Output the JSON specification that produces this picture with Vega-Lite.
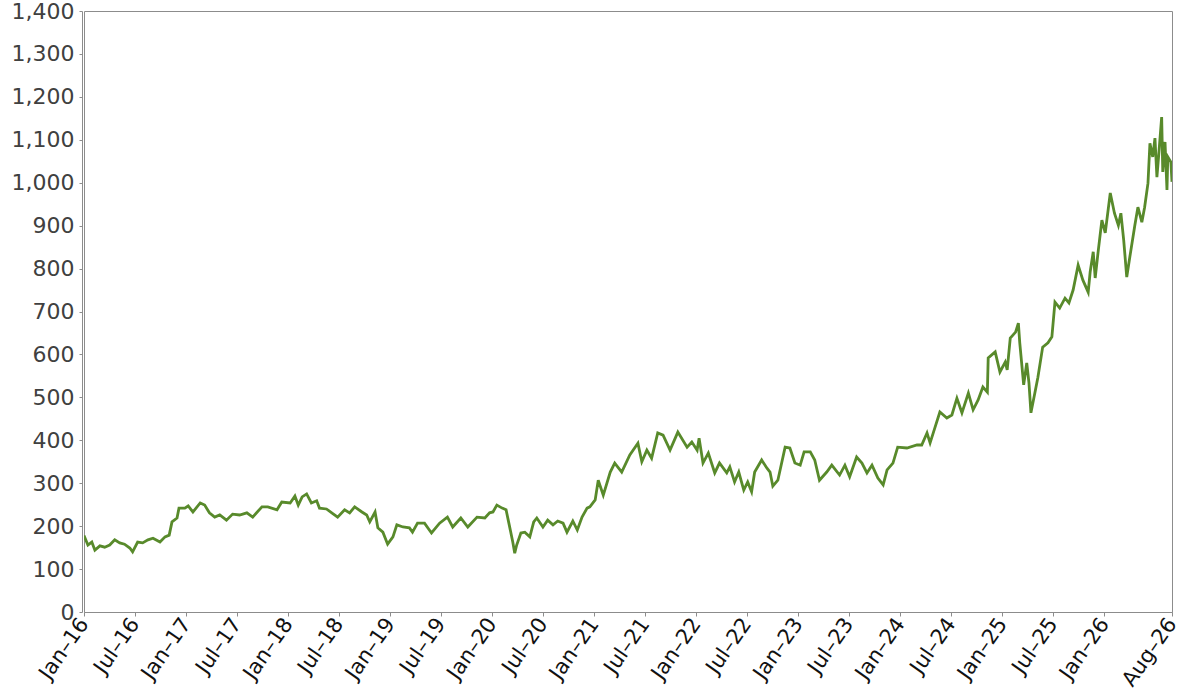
{
  "$schema": "https://vega.github.io/schema/vega-lite/v6.json",
  "width": 1088,
  "height": 601,
  "autosize": "none",
  "padding": {"left": 84, "top": 11, "right": 28, "bottom": 88},
  "background": "white",
  "config": {
    "view": {"stroke": "#8c8c8c", "strokeWidth": 1},
    "axis": {"grid": false, "labelFont": "DejaVu Sans", "titleFont": "DejaVu Sans"}
  },
  "data": {
    "values": [
      {"d":"2016-01-01","v":178},{"d":"2016-01-15","v":156},{"d":"2016-01-29","v":163},{"d":"2016-02-09","v":144},{"d":"2016-02-27","v":154},{"d":"2016-03-15","v":151},{"d":"2016-04-02","v":156},{"d":"2016-04-20","v":168},{"d":"2016-05-08","v":161},{"d":"2016-05-25","v":158},{"d":"2016-06-13","v":149},{"d":"2016-06-23","v":140},{"d":"2016-07-11","v":163},{"d":"2016-07-29","v":161},{"d":"2016-08-17","v":168},{"d":"2016-09-04","v":172},{"d":"2016-09-29","v":163},{"d":"2016-10-17","v":175},{"d":"2016-11-01","v":179},{"d":"2016-11-11","v":210},{"d":"2016-11-29","v":219},{"d":"2016-12-06","v":242},{"d":"2016-12-27","v":242},
      {"d":"2017-01-08","v":247},{"d":"2017-01-25","v":233},{"d":"2017-02-20","v":254},{"d":"2017-03-08","v":249},{"d":"2017-03-25","v":231},{"d":"2017-04-13","v":221},{"d":"2017-05-01","v":226},{"d":"2017-05-25","v":214},{"d":"2017-06-16","v":228},{"d":"2017-07-11","v":226},{"d":"2017-08-06","v":231},{"d":"2017-08-27","v":221},{"d":"2017-09-29","v":245},{"d":"2017-10-20","v":245},{"d":"2017-11-22","v":238},{"d":"2017-12-09","v":256},
      {"d":"2018-01-08","v":254},{"d":"2018-01-25","v":270},{"d":"2018-02-06","v":249},{"d":"2018-02-20","v":268},{"d":"2018-03-08","v":275},{"d":"2018-03-25","v":254},{"d":"2018-04-13","v":259},{"d":"2018-04-23","v":242},{"d":"2018-05-18","v":240},{"d":"2018-06-06","v":231},{"d":"2018-06-27","v":221},{"d":"2018-07-22","v":238},{"d":"2018-08-09","v":231},{"d":"2018-08-27","v":245},{"d":"2018-09-22","v":233},{"d":"2018-10-09","v":226},{"d":"2018-10-20","v":210},{"d":"2018-11-08","v":233},{"d":"2018-11-18","v":196},{"d":"2018-12-06","v":186},{"d":"2018-12-23","v":158},
      {"d":"2019-01-11","v":175},{"d":"2019-01-25","v":203},{"d":"2019-02-16","v":198},{"d":"2019-03-11","v":196},{"d":"2019-03-22","v":186},{"d":"2019-04-09","v":207},{"d":"2019-05-04","v":207},{"d":"2019-05-29","v":184},{"d":"2019-06-27","v":207},{"d":"2019-07-25","v":221},{"d":"2019-08-13","v":198},{"d":"2019-09-11","v":219},{"d":"2019-10-06","v":198},{"d":"2019-11-08","v":221},{"d":"2019-12-06","v":219},{"d":"2019-12-23","v":231},
      {"d":"2020-01-04","v":233},{"d":"2020-01-18","v":249},{"d":"2020-02-06","v":242},{"d":"2020-02-20","v":238},{"d":"2020-03-01","v":207},{"d":"2020-03-15","v":163},{"d":"2020-03-22","v":137},{"d":"2020-03-29","v":156},{"d":"2020-04-13","v":184},{"d":"2020-04-27","v":186},{"d":"2020-05-15","v":175},{"d":"2020-05-29","v":210},{"d":"2020-06-09","v":219},{"d":"2020-07-01","v":198},{"d":"2020-07-18","v":214},{"d":"2020-08-06","v":203},{"d":"2020-08-23","v":212},{"d":"2020-09-11","v":207},{"d":"2020-09-25","v":186},{"d":"2020-10-16","v":212},{"d":"2020-11-01","v":191},{"d":"2020-11-18","v":221},{"d":"2020-12-06","v":242},{"d":"2020-12-16","v":245},
      {"d":"2021-01-04","v":261},{"d":"2021-01-15","v":307},{"d":"2021-02-02","v":272},{"d":"2021-02-27","v":326},{"d":"2021-03-15","v":347},{"d":"2021-04-09","v":326},{"d":"2021-05-08","v":366},{"d":"2021-06-06","v":393},{"d":"2021-06-20","v":350},{"d":"2021-07-08","v":377},{"d":"2021-07-25","v":358},{"d":"2021-08-16","v":417},{"d":"2021-09-04","v":412},{"d":"2021-09-29","v":377},{"d":"2021-10-27","v":419},{"d":"2021-11-29","v":384},{"d":"2021-12-16","v":396},
      {"d":"2022-01-04","v":377},{"d":"2022-01-11","v":405},{"d":"2022-01-25","v":347},{"d":"2022-02-13","v":370},{"d":"2022-03-08","v":324},{"d":"2022-03-25","v":347},{"d":"2022-04-20","v":324},{"d":"2022-05-01","v":338},{"d":"2022-05-18","v":303},{"d":"2022-06-02","v":326},{"d":"2022-06-20","v":284},{"d":"2022-07-04","v":303},{"d":"2022-07-18","v":280},{"d":"2022-07-29","v":326},{"d":"2022-08-23","v":354},{"d":"2022-09-11","v":335},{"d":"2022-09-22","v":326},{"d":"2022-10-02","v":293},{"d":"2022-10-20","v":307},{"d":"2022-11-15","v":384},{"d":"2022-12-02","v":382},{"d":"2022-12-20","v":347},
      {"d":"2023-01-08","v":342},{"d":"2023-01-22","v":373},{"d":"2023-02-13","v":373},{"d":"2023-03-01","v":354},{"d":"2023-03-18","v":307},{"d":"2023-04-13","v":326},{"d":"2023-05-01","v":342},{"d":"2023-05-29","v":319},{"d":"2023-06-17","v":342},{"d":"2023-07-04","v":315},{"d":"2023-07-29","v":361},{"d":"2023-08-17","v":347},{"d":"2023-09-04","v":324},{"d":"2023-09-22","v":342},{"d":"2023-10-13","v":312},{"d":"2023-11-01","v":296},{"d":"2023-11-15","v":331},{"d":"2023-12-06","v":347},{"d":"2023-12-23","v":384},
      {"d":"2024-01-25","v":382},{"d":"2024-03-01","v":389},{"d":"2024-03-18","v":389},{"d":"2024-04-06","v":417},{"d":"2024-04-17","v":394},{"d":"2024-05-04","v":429},{"d":"2024-05-22","v":466},{"d":"2024-06-16","v":452},{"d":"2024-07-04","v":459},{"d":"2024-07-22","v":498},{"d":"2024-08-09","v":464},{"d":"2024-09-01","v":510},{"d":"2024-09-18","v":471},{"d":"2024-10-06","v":494},{"d":"2024-10-23","v":524},{"d":"2024-11-08","v":512},{"d":"2024-11-11","v":592},{"d":"2024-12-06","v":606},{"d":"2024-12-23","v":559},
      {"d":"2025-01-11","v":582},{"d":"2025-01-18","v":564},{"d":"2025-01-29","v":638},{"d":"2025-02-17","v":652},{"d":"2025-02-27","v":673},{"d":"2025-03-04","v":627},{"d":"2025-03-18","v":529},{"d":"2025-03-29","v":580},{"d":"2025-04-06","v":533},{"d":"2025-04-13","v":464},{"d":"2025-04-27","v":510},{"d":"2025-05-08","v":547},{"d":"2025-05-25","v":617},{"d":"2025-06-13","v":627},{"d":"2025-06-27","v":641},{"d":"2025-07-08","v":722},{"d":"2025-07-25","v":708},{"d":"2025-08-13","v":731},{"d":"2025-08-27","v":720},{"d":"2025-09-11","v":750},{"d":"2025-09-29","v":808},{"d":"2025-10-16","v":773},{"d":"2025-11-04","v":745},{"d":"2025-11-11","v":792},{"d":"2025-11-22","v":839},{"d":"2025-11-29","v":778},{"d":"2025-12-09","v":836},{"d":"2025-12-23","v":913},
      {"d":"2026-01-04","v":883},{"d":"2026-01-22","v":976},{"d":"2026-02-06","v":929},{"d":"2026-02-20","v":901},{"d":"2026-03-01","v":929},{"d":"2026-03-11","v":867},{"d":"2026-03-22","v":780},{"d":"2026-04-02","v":827},{"d":"2026-04-20","v":901},{"d":"2026-05-01","v":943},{"d":"2026-05-15","v":908},{"d":"2026-05-25","v":943},{"d":"2026-06-06","v":999},{"d":"2026-06-13","v":1092},{"d":"2026-06-23","v":1060},{"d":"2026-07-01","v":1104},{"d":"2026-07-08","v":1013},{"d":"2026-07-15","v":1069},{"d":"2026-07-25","v":1153},{"d":"2026-07-29","v":1025},{"d":"2026-08-06","v":1095},{"d":"2026-08-13","v":983},{"d":"2026-08-16","v":1060},{"d":"2026-08-27","v":1048},{"d":"2026-08-31","v":1002}
    ]
  },
  "mark": {"type": "line", "color": "#588a2b", "strokeWidth": 2.8, "clip": true},
  "encoding": {
    "x": {
      "field": "d",
      "type": "temporal",
      "title": null,
      "scale": {
        "type": "utc",
        "domain": [{"year": 2016, "month": 1, "date": 1, "utc": true}, {"year": 2026, "month": 8, "date": 31, "utc": true}]
      },
      "axis": {
        "values": [
          {"year":2016,"month":1,"date":1,"utc":true},{"year":2016,"month":7,"date":1,"utc":true},
          {"year":2017,"month":1,"date":1,"utc":true},{"year":2017,"month":7,"date":1,"utc":true},
          {"year":2018,"month":1,"date":1,"utc":true},{"year":2018,"month":7,"date":1,"utc":true},
          {"year":2019,"month":1,"date":1,"utc":true},{"year":2019,"month":7,"date":1,"utc":true},
          {"year":2020,"month":1,"date":1,"utc":true},{"year":2020,"month":7,"date":1,"utc":true},
          {"year":2021,"month":1,"date":1,"utc":true},{"year":2021,"month":7,"date":1,"utc":true},
          {"year":2022,"month":1,"date":1,"utc":true},{"year":2022,"month":7,"date":1,"utc":true},
          {"year":2023,"month":1,"date":1,"utc":true},{"year":2023,"month":7,"date":1,"utc":true},
          {"year":2024,"month":1,"date":1,"utc":true},{"year":2024,"month":7,"date":1,"utc":true},
          {"year":2025,"month":1,"date":1,"utc":true},{"year":2025,"month":7,"date":1,"utc":true},
          {"year":2026,"month":1,"date":1,"utc":true},{"year":2026,"month":8,"date":31,"utc":true}
        ],
        "format": "%b–%y",
        "labelAngle": -55,
        "labelAlign": "right",
        "labelBaseline": "middle",
        "labelFontSize": 21,
        "labelColor": "#111111",
        "labelPadding": 4,
        "labelOverlap": false,
        "labelBound": false,
        "labelFlush": false,
        "domainColor": "#8c8c8c",
        "tickColor": "#8c8c8c",
        "tickSize": 4
      }
    },
    "y": {
      "field": "v",
      "type": "quantitative",
      "title": null,
      "scale": {"domain": [0, 1400], "nice": false, "zero": true},
      "axis": {
        "values": [0,100,200,300,400,500,600,700,800,900,1000,1100,1200,1300,1400],
        "format": ",.0f",
        "labelFontSize": 22,
        "labelColor": "#404040",
        "labelPadding": 5,
        "labelOverlap": false,
        "labelFlush": false,
        "offset": 2,
        "domainColor": "#8c8c8c",
        "tickColor": "#8c8c8c",
        "tickSize": 3
      }
    }
  }
}
